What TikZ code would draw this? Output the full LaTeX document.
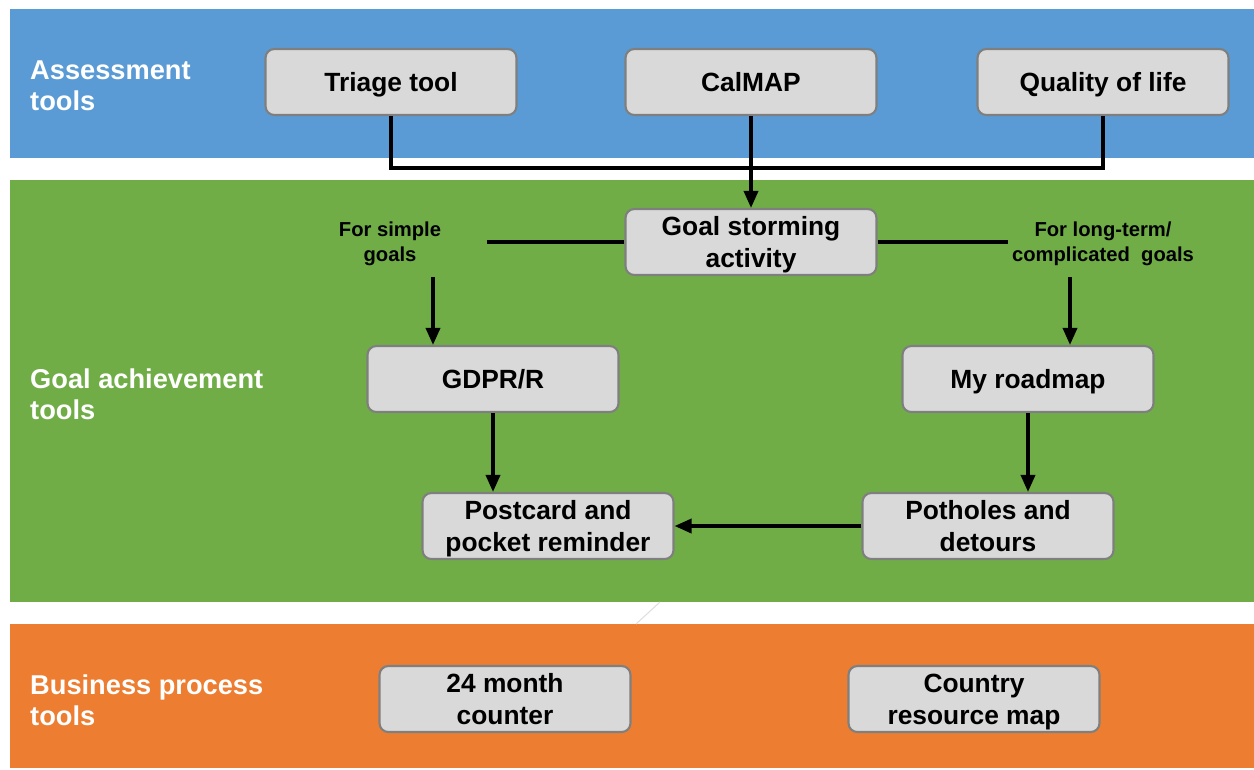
\documentclass[tikz,border=0pt]{standalone}
\usepackage{fontspec}
\setmainfont{Liberation Sans}
\usetikzlibrary{arrows.meta}
\definecolor{bandblue}{HTML}{5B9BD5}
\definecolor{bandgreen}{HTML}{70AD47}
\definecolor{bandorange}{HTML}{ED7D31}
\definecolor{boxfill}{HTML}{D9D9D9}
\definecolor{boxline}{HTML}{7F7F7F}
\tikzset{
	toolbox/.style={draw=boxline, fill=boxfill, line width=1.2pt, rounded corners=5pt,
		minimum width=5.02cm, minimum height=1.32cm, align=center, inner sep=1pt,
		text depth=0pt, font=\fontsize{15}{18}\selectfont\bfseries},
	bandlabel/.style={anchor=west, text=white, align=left,
		font=\fontsize{15.5}{17.5}\selectfont\bfseries},
	sidenote/.style={align=center, font=\fontsize{11.5}{14.5}\selectfont\bfseries},
	link/.style={line width=2pt},
	linkarrow/.style={link, -{Triangle[length=3.4mm, width=2.8mm]}}
}

\begin{document}
\begin{tikzpicture}[x=0.02cm, y=-0.02cm]
	\useasboundingbox[fill=white] (0, 0) rectangle (1254, 769);

	% bands
	\fill[bandblue] (10, 9) rectangle (1254, 158);
	\fill[bandgreen] (10, 180) rectangle (1254, 602);
	\fill[bandorange] (10, 624) rectangle (1254, 768);
	\draw[gray!25, line width=0.6pt] (636, 624) -- (660, 602);

	\node[bandlabel] (assesslbl) at (24, 86) {Assessment\\tools};
	\node[bandlabel] (goallbl) at (24, 394) {Goal achievement\\tools};
	\node[bandlabel] (businesslbl) at (24, 700) {Business process\\tools};

	% assessment tools
	\node[toolbox] (triage) at (391, 82) {Triage tool};
	\node[toolbox] (calmap) at (751, 82) {CalMAP};
	\node[toolbox] (qol) at (1103, 82) {Quality of life};

	% goal achievement tools
	\node[toolbox] (storm) at (751, 242) {Goal storming\\activity};
	\node[toolbox] (gdpr) at (493, 379) {GDPR/R};
	\node[toolbox] (roadmap) at (1028, 379) {My roadmap};
	\node[toolbox] (postcard) at (548, 526) {Postcard and\\pocket reminder};
	\node[toolbox] (potholes) at (988, 526) {Potholes and\\detours};

	\node[sidenote] (simple) at (390, 244) {For simple\\goals};
	\node[sidenote] (complex) at (1103, 244) {For long-term/\\complicated\ \ goals};

	% business process tools
	\node[toolbox] (counter) at (505, 699) {24 month\\counter};
	\node[toolbox] (country) at (974, 699) {Country\\resource map};

	% connectors
	\coordinate (join) at (751, 168);
	\coordinate (simpleend) at (487, 242);
	\coordinate (simpledrop) at (433, 277);
	\coordinate (complexend) at (1008, 242);
	\coordinate (complexdrop) at (1070, 277);

	\draw[link] (triage.south) |- (join) -| (qol.south);
	\draw[linkarrow] (calmap.south) -- (storm.north);
	\draw[link] (storm.west |- simpleend) -- (simpleend);
	\draw[link] (storm.east |- complexend) -- (complexend);
	\draw[linkarrow] (simpledrop) -- (simpledrop |- gdpr.north);
	\draw[linkarrow] (complexdrop) -- (complexdrop |- roadmap.north);
	\draw[linkarrow] (gdpr.south) -- (gdpr.south |- postcard.north);
	\draw[linkarrow] (roadmap.south) -- (roadmap.south |- potholes.north);
	\draw[linkarrow] (potholes.west) -- (postcard.east);
\end{tikzpicture}
\end{document}
